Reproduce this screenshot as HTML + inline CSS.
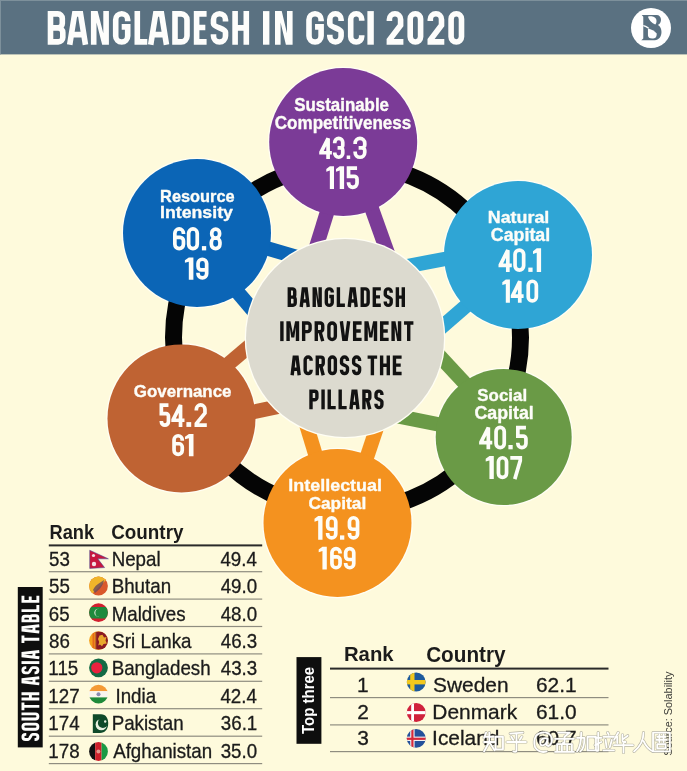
<!DOCTYPE html>
<html><head><meta charset="utf-8"><style>
html,body{margin:0;padding:0;background:#fefadc;}
svg{display:block;font-family:"Liberation Sans",sans-serif;will-change:transform;}
</style></head><body>
<svg width="687" height="771" viewBox="0 0 687 771">
<rect width="687" height="771" fill="#fefadc"/>
<rect x="0" y="0" width="687" height="54.4" fill="#5a7181"/>
<rect x="0" y="0" width="687" height="1" fill="#7d909b"/><rect x="0" y="0" width="1" height="54.4" fill="#7d909b"/>
<path transform="translate(47.70 11.10)" d="M2.80 0.00 V33.60 M0.00 2.80 H10.08 A4.52 4.52 0 0 1 14.60 7.32 V12.28 A4.52 4.52 0 0 1 10.08 16.80 H2.80 M2.80 16.80 H10.58 A4.52 4.52 0 0 1 15.10 21.32 V26.28 A4.52 4.52 0 0 1 10.58 30.80 H0.00" fill="none" stroke="#fdfdfb" stroke-width="5.60" stroke-linejoin="miter" stroke-linecap="butt"/>
<path transform="translate(67.20 11.10)" d="M2.52 33.60 L7.49 2.80 H13.31 L18.28 33.60 M4.16 23.52 H16.64" fill="none" stroke="#fdfdfb" stroke-width="5.60" stroke-linejoin="miter" stroke-linecap="butt"/>
<path transform="translate(90.90 11.10)" d="M0 0 H6.72 L12.40 22.18 V0 H18.00 V33.60 H11.28 L5.60 11.42 V33.60 H0 Z" fill="#fdfdfb"/>
<path transform="translate(112.90 11.10)" d="M14.80 10.15 V8.68 A5.88 5.88 0 0 0 2.80 8.68 V24.92 A5.88 5.88 0 0 0 14.80 24.92 V15.79 H8.80" fill="none" stroke="#fdfdfb" stroke-width="5.60" stroke-linejoin="miter" stroke-linecap="butt"/>
<path transform="translate(134.50 11.10)" d="M2.80 0.00 V30.80 H12.80" fill="none" stroke="#fdfdfb" stroke-width="5.60" stroke-linejoin="miter" stroke-linecap="butt"/>
<path transform="translate(148.20 11.10)" d="M2.52 33.60 L7.49 2.80 H13.31 L18.28 33.60 M4.16 23.52 H16.64" fill="none" stroke="#fdfdfb" stroke-width="5.60" stroke-linejoin="miter" stroke-linecap="butt"/>
<path transform="translate(172.20 11.10)" d="M2.80 2.80 H8.92 A5.88 5.88 0 0 1 14.80 8.68 V24.92 A5.88 5.88 0 0 1 8.92 30.80 H2.80 Z" fill="none" stroke="#fdfdfb" stroke-width="5.60" stroke-linejoin="miter" stroke-linecap="butt"/>
<path transform="translate(193.80 11.10)" d="M12.80 2.80 H2.80 V30.80 H12.80 M2.80 16.46 H11.52" fill="none" stroke="#fdfdfb" stroke-width="5.60" stroke-linejoin="miter" stroke-linecap="butt"/>
<path transform="translate(210.70 11.10)" d="M14.80 10.44 V8.68 A5.88 5.88 0 0 0 2.80 8.68 V12.77 C2.80 16.13 14.80 17.47 14.80 20.83 V24.92 A5.88 5.88 0 0 1 2.80 24.92 V23.16" fill="none" stroke="#fdfdfb" stroke-width="5.60" stroke-linejoin="miter" stroke-linecap="butt"/>
<path transform="translate(232.30 11.10)" d="M2.80 0.00 V33.60 M14.00 0.00 V33.60 M2.80 16.80 H14.00" fill="none" stroke="#fdfdfb" stroke-width="5.60" stroke-linejoin="miter" stroke-linecap="butt"/>
<rect x="263.00" y="11.10" width="6.40" height="33.60" fill="#fdfdfb"/>
<path transform="translate(275.00 11.10)" d="M0 0 H6.72 L12.00 22.18 V0 H17.60 V33.60 H10.88 L5.60 11.42 V33.60 H0 Z" fill="#fdfdfb"/>
<path transform="translate(306.20 11.10)" d="M14.90 10.21 V8.73 A5.93 5.93 0 0 0 2.80 8.73 V24.87 A5.93 5.93 0 0 0 14.90 24.87 V15.79 H8.85" fill="none" stroke="#fdfdfb" stroke-width="5.60" stroke-linejoin="miter" stroke-linecap="butt"/>
<path transform="translate(327.00 11.10)" d="M14.10 10.00 V8.34 A5.54 5.54 0 0 0 2.80 8.34 V12.77 C2.80 16.13 14.10 17.47 14.10 20.83 V25.26 A5.54 5.54 0 0 1 2.80 25.26 V23.60" fill="none" stroke="#fdfdfb" stroke-width="5.60" stroke-linejoin="miter" stroke-linecap="butt"/>
<path transform="translate(347.90 11.10)" d="M13.80 9.54 V8.19 A5.39 5.39 0 0 0 2.80 8.19 V25.41 A5.39 5.39 0 0 0 13.80 25.41 V24.06" fill="none" stroke="#fdfdfb" stroke-width="5.60" stroke-linejoin="miter" stroke-linecap="butt"/>
<rect x="367.40" y="11.10" width="6.40" height="33.60" fill="#fdfdfb"/>
<path transform="translate(386.60 11.10)" d="M2.80 9.93 V8.29 A5.49 5.49 0 0 1 14.00 8.29 V14.11 L2.80 28.90 V30.80 H16.80" fill="none" stroke="#fdfdfb" stroke-width="5.60" stroke-linejoin="miter" stroke-linecap="butt"/>
<path transform="translate(407.40 11.10)" d="M2.80 7.90 A5.10 5.10 0 0 1 13.20 7.90 V25.70 A5.10 5.10 0 0 1 2.80 25.70 V7.90 Z" fill="none" stroke="#fdfdfb" stroke-width="5.60" stroke-linejoin="miter" stroke-linecap="butt"/>
<path transform="translate(427.50 11.10)" d="M2.80 9.93 V8.29 A5.49 5.49 0 0 1 14.00 8.29 V14.11 L2.80 28.90 V30.80 H16.80" fill="none" stroke="#fdfdfb" stroke-width="5.60" stroke-linejoin="miter" stroke-linecap="butt"/>
<path transform="translate(448.30 11.10)" d="M2.80 7.90 A5.10 5.10 0 0 1 13.20 7.90 V25.70 A5.10 5.10 0 0 1 2.80 25.70 V7.90 Z" fill="none" stroke="#fdfdfb" stroke-width="5.60" stroke-linejoin="miter" stroke-linecap="butt"/>
<circle cx="651" cy="28" r="20" fill="#fff"/>
<circle cx="343.2" cy="142" r="75.3" fill="#fffef4"/>
<circle cx="197" cy="233" r="75.3" fill="#fffef4"/>
<circle cx="518" cy="255" r="75.3" fill="#fffef4"/>
<circle cx="181.5" cy="418.4" r="75.3" fill="#fffef4"/>
<circle cx="337.5" cy="523" r="75.3" fill="#fffef4"/>
<circle cx="503.7" cy="437" r="69.3" fill="#fffef4"/>
<circle cx="347" cy="337.5" r="173.5" fill="none" stroke="#050505" stroke-width="17"/>
<line x1="332.7" y1="194.0" x2="311.3" y2="263.0" stroke="#7b3b97" stroke-width="14.5"/>
<line x1="365.9" y1="192.3" x2="392.2" y2="265.7" stroke="#7b3b97" stroke-width="14.5"/>
<line x1="248.0" y1="242.7" x2="316.8" y2="262.9" stroke="#0b65b6" stroke-width="14.5"/>
<line x1="224.9" y1="277.2" x2="268.4" y2="328.3" stroke="#0b65b6" stroke-width="14.5"/>
<line x1="466.0" y1="255.0" x2="392.3" y2="269.0" stroke="#2fa5d5" stroke-width="14.5"/>
<line x1="480.8" y1="293.1" x2="427.5" y2="339.4" stroke="#2fa5d5" stroke-width="14.5"/>
<line x1="212.7" y1="377.3" x2="267.7" y2="330.5" stroke="#bf6333" stroke-width="14.5"/>
<line x1="233.4" y1="416.1" x2="301.0" y2="401.9" stroke="#bf6333" stroke-width="14.5"/>
<line x1="299.6" y1="402.6" x2="321.2" y2="473.4" stroke="#f4921f" stroke-width="14.5"/>
<line x1="383.5" y1="407.4" x2="361.5" y2="473.2" stroke="#f4921f" stroke-width="14.5"/>
<line x1="424.6" y1="340.0" x2="478.6" y2="398.1" stroke="#6a9a46" stroke-width="14.5"/>
<line x1="389.9" y1="414.7" x2="459.0" y2="428.5" stroke="#6a9a46" stroke-width="14.5"/>
<circle cx="345" cy="338" r="100.3" fill="#fffef4"/>
<circle cx="345" cy="338" r="99" fill="#dcdacf"/>
<path transform="translate(287.60 287.20)" d="M1.70 0.00 V19.80 M0.00 1.70 H4.94 A2.18 2.18 0 0 1 7.12 3.88 V7.72 A2.18 2.18 0 0 1 4.94 9.90 H1.70 M1.70 9.90 H5.44 A2.18 2.18 0 0 1 7.62 12.08 V15.92 A2.18 2.18 0 0 1 5.44 18.10 H0.00" fill="none" stroke="#121212" stroke-width="3.40" stroke-linejoin="miter" stroke-linecap="butt"/><path transform="translate(299.69 287.20)" d="M1.53 19.80 L3.62 1.70 H6.44 L8.54 19.80 M2.01 13.86 H8.05" fill="none" stroke="#121212" stroke-width="3.40" stroke-linejoin="miter" stroke-linecap="butt"/><path transform="translate(312.53 287.20)" d="M0 0 H4.08 L5.92 13.07 V0 H9.32 V19.80 H5.24 L3.40 6.73 V19.80 H0 Z" fill="#121212"/><path transform="translate(324.62 287.20)" d="M7.62 5.33 V4.60 A2.90 2.90 0 0 0 1.70 4.60 V15.20 A2.90 2.90 0 0 0 7.62 15.20 V9.31 H4.66" fill="none" stroke="#121212" stroke-width="3.40" stroke-linejoin="miter" stroke-linecap="butt"/><path transform="translate(336.71 287.20)" d="M1.70 0.00 V18.10 H8.20" fill="none" stroke="#121212" stroke-width="3.40" stroke-linejoin="miter" stroke-linecap="butt"/><path transform="translate(347.69 287.20)" d="M1.53 19.80 L3.62 1.70 H6.44 L8.54 19.80 M2.01 13.86 H8.05" fill="none" stroke="#121212" stroke-width="3.40" stroke-linejoin="miter" stroke-linecap="butt"/><path transform="translate(360.52 287.20)" d="M1.70 1.70 H4.72 A2.90 2.90 0 0 1 7.62 4.60 V15.20 A2.90 2.90 0 0 1 4.72 18.10 H1.70 Z" fill="none" stroke="#121212" stroke-width="3.40" stroke-linejoin="miter" stroke-linecap="butt"/><path transform="translate(372.62 287.20)" d="M8.20 1.70 H1.70 V18.10 H8.20 M1.70 9.70 H7.38" fill="none" stroke="#121212" stroke-width="3.40" stroke-linejoin="miter" stroke-linecap="butt"/><path transform="translate(383.59 287.20)" d="M7.62 5.47 V4.60 A2.90 2.90 0 0 0 1.70 4.60 V7.52 C1.70 9.50 7.62 10.30 7.62 12.28 V15.20 A2.90 2.90 0 0 1 1.70 15.20 V14.33" fill="none" stroke="#121212" stroke-width="3.40" stroke-linejoin="miter" stroke-linecap="butt"/><path transform="translate(395.68 287.20)" d="M1.70 0.00 V19.80 M7.62 0.00 V19.80 M1.70 9.90 H7.62" fill="none" stroke="#121212" stroke-width="3.40" stroke-linejoin="miter" stroke-linecap="butt"/>
<rect x="280.20" y="321.30" width="3.40" height="19.80" fill="#121212"/><path transform="translate(286.37 321.30)" d="M0 0 H4.08 L6.40 11.48 L8.73 0 H12.81 V19.80 H9.41 V5.94 L7.93 16.24 H4.87 L3.40 5.94 V19.80 H0 Z" fill="#121212"/><path transform="translate(301.95 321.30)" d="M1.70 19.80 V1.70 H5.62 A2.53 2.53 0 0 1 8.15 4.23 V7.77 A2.53 2.53 0 0 1 5.62 10.30 H1.70" fill="none" stroke="#121212" stroke-width="3.40" stroke-linejoin="miter" stroke-linecap="butt"/><path transform="translate(314.58 321.30)" d="M1.70 19.80 V1.70 H5.62 A2.53 2.53 0 0 1 8.15 4.23 V7.77 A2.53 2.53 0 0 1 5.62 10.30 H1.70 M5.42 10.30 L8.15 19.80" fill="none" stroke="#121212" stroke-width="3.40" stroke-linejoin="miter" stroke-linecap="butt"/><path transform="translate(327.20 321.30)" d="M1.70 4.86 A3.16 3.16 0 0 1 8.15 4.86 V14.94 A3.16 3.16 0 0 1 1.70 14.94 V4.86 Z" fill="none" stroke="#121212" stroke-width="3.40" stroke-linejoin="miter" stroke-linecap="butt"/><path transform="translate(339.83 321.30)" d="M1.53 0.00 L3.93 18.10 H6.41 L8.82 0.00" fill="none" stroke="#121212" stroke-width="3.40" stroke-linejoin="miter" stroke-linecap="butt"/><path transform="translate(352.95 321.30)" d="M8.67 1.70 H1.70 V18.10 H8.67 M1.70 9.70 H7.80" fill="none" stroke="#121212" stroke-width="3.40" stroke-linejoin="miter" stroke-linecap="butt"/><path transform="translate(364.39 321.30)" d="M0 0 H4.08 L6.40 11.48 L8.73 0 H12.81 V19.80 H9.41 V5.94 L7.93 16.24 H4.87 L3.40 5.94 V19.80 H0 Z" fill="#121212"/><path transform="translate(379.97 321.30)" d="M8.67 1.70 H1.70 V18.10 H8.67 M1.70 9.70 H7.80" fill="none" stroke="#121212" stroke-width="3.40" stroke-linejoin="miter" stroke-linecap="butt"/><path transform="translate(391.41 321.30)" d="M0 0 H4.08 L6.45 13.07 V0 H9.85 V19.80 H5.77 L3.40 6.73 V19.80 H0 Z" fill="#121212"/><path transform="translate(404.04 321.30)" d="M0.00 1.70 H9.36 M4.68 0.00 V19.80" fill="none" stroke="#121212" stroke-width="3.40" stroke-linejoin="miter" stroke-linecap="butt"/>
<path transform="translate(290.60 355.40)" d="M1.53 19.80 L3.63 1.70 H6.46 L8.57 19.80 M2.02 13.86 H8.08" fill="none" stroke="#121212" stroke-width="3.40" stroke-linejoin="miter" stroke-linecap="butt"/><path transform="translate(303.47 355.40)" d="M7.65 5.34 V4.61 A2.91 2.91 0 0 0 1.70 4.61 V15.19 A2.91 2.91 0 0 0 7.65 15.19 V14.46" fill="none" stroke="#121212" stroke-width="3.40" stroke-linejoin="miter" stroke-linecap="butt"/><path transform="translate(315.59 355.40)" d="M1.70 19.80 V1.70 H5.32 A2.33 2.33 0 0 1 7.65 4.03 V7.96 A2.33 2.33 0 0 1 5.32 10.30 H1.70 M5.14 10.30 L7.65 19.80" fill="none" stroke="#121212" stroke-width="3.40" stroke-linejoin="miter" stroke-linecap="butt"/><path transform="translate(327.71 355.40)" d="M1.70 4.61 A2.91 2.91 0 0 1 7.65 4.61 V15.19 A2.91 2.91 0 0 1 1.70 15.19 V4.61 Z" fill="none" stroke="#121212" stroke-width="3.40" stroke-linejoin="miter" stroke-linecap="butt"/><path transform="translate(339.83 355.40)" d="M7.65 5.49 V4.61 A2.91 2.91 0 0 0 1.70 4.61 V7.52 C1.70 9.50 7.65 10.30 7.65 12.28 V15.19 A2.91 2.91 0 0 1 1.70 15.19 V14.31" fill="none" stroke="#121212" stroke-width="3.40" stroke-linejoin="miter" stroke-linecap="butt"/><path transform="translate(351.95 355.40)" d="M7.65 5.49 V4.61 A2.91 2.91 0 0 0 1.70 4.61 V7.52 C1.70 9.50 7.65 10.30 7.65 12.28 V15.19 A2.91 2.91 0 0 1 1.70 15.19 V14.31" fill="none" stroke="#121212" stroke-width="3.40" stroke-linejoin="miter" stroke-linecap="butt"/>
<path transform="translate(367.60 355.40)" d="M0.00 1.70 H9.55 M4.78 0.00 V19.80" fill="none" stroke="#121212" stroke-width="3.40" stroke-linejoin="miter" stroke-linecap="butt"/><path transform="translate(379.92 355.40)" d="M1.70 0.00 V19.80 M8.36 0.00 V19.80 M1.70 9.90 H8.36" fill="none" stroke="#121212" stroke-width="3.40" stroke-linejoin="miter" stroke-linecap="butt"/><path transform="translate(392.75 355.40)" d="M8.85 1.70 H1.70 V18.10 H8.85 M1.70 9.70 H7.96" fill="none" stroke="#121212" stroke-width="3.40" stroke-linejoin="miter" stroke-linecap="butt"/>
<path transform="translate(309.30 389.50)" d="M1.70 19.80 V1.70 H5.28 A2.31 2.31 0 0 1 7.59 4.01 V7.99 A2.31 2.31 0 0 1 5.28 10.30 H1.70" fill="none" stroke="#121212" stroke-width="3.40" stroke-linejoin="miter" stroke-linecap="butt"/><rect x="321.36" y="389.50" width="3.40" height="19.80" fill="#121212"/><path transform="translate(327.54 389.50)" d="M1.70 0.00 V18.10 H8.18" fill="none" stroke="#121212" stroke-width="3.40" stroke-linejoin="miter" stroke-linecap="butt"/><path transform="translate(338.49 389.50)" d="M1.70 0.00 V18.10 H8.18" fill="none" stroke="#121212" stroke-width="3.40" stroke-linejoin="miter" stroke-linecap="butt"/><path transform="translate(349.44 389.50)" d="M1.53 19.80 L3.61 1.70 H6.42 L8.51 19.80 M2.01 13.86 H8.03" fill="none" stroke="#121212" stroke-width="3.40" stroke-linejoin="miter" stroke-linecap="butt"/><path transform="translate(362.24 389.50)" d="M1.70 19.80 V1.70 H5.28 A2.31 2.31 0 0 1 7.59 4.01 V7.99 A2.31 2.31 0 0 1 5.28 10.30 H1.70 M5.11 10.30 L7.59 19.80" fill="none" stroke="#121212" stroke-width="3.40" stroke-linejoin="miter" stroke-linecap="butt"/><path transform="translate(374.31 389.50)" d="M7.59 5.45 V4.59 A2.89 2.89 0 0 0 1.70 4.59 V7.52 C1.70 9.50 7.59 10.30 7.59 12.28 V15.21 A2.89 2.89 0 0 1 1.70 15.21 V14.35" fill="none" stroke="#121212" stroke-width="3.40" stroke-linejoin="miter" stroke-linecap="butt"/>
<circle cx="343.2" cy="142" r="74" fill="#7b3b97"/>
<text transform="translate(294.29 110.53) scale(0.9645 1)" font-size="17.51" font-weight="bold" fill="#fdfdf8" stroke="#fdfdf8" stroke-width="0.36" stroke-linejoin="round">Sustainable</text>
<text transform="translate(274.77 129.12) scale(0.9757 1)" font-size="17.51" font-weight="bold" fill="#fdfdf8" stroke="#fdfdf8" stroke-width="0.35" stroke-linejoin="round">Competitiveness</text>
<path transform="translate(319.20 136.60)" d="M8.89 22.40 V1.85 L1.85 15.68 V16.13 H12.70" fill="none" stroke="#fdfdf8" stroke-width="3.70" stroke-linejoin="miter" stroke-linecap="butt"/><path transform="translate(332.90 136.60)" d="M1.85 6.55 V5.77 A3.92 3.92 0 0 1 9.85 5.77 V8.85 A2.35 2.35 0 0 1 7.50 11.20 H4.68 M7.50 11.20 A2.35 2.35 0 0 1 9.85 13.55 V16.63 A3.92 3.92 0 0 1 1.85 16.63 V15.85" fill="none" stroke="#fdfdf8" stroke-width="3.70" stroke-linejoin="miter" stroke-linecap="butt"/><rect x="346.70" y="155.50" width="3.50" height="3.50" fill="#fdfdf8"/><path transform="translate(353.30 136.60)" d="M1.85 7.49 V6.55 A4.70 4.70 0 0 1 11.45 6.55 V8.38 A2.82 2.82 0 0 1 8.63 11.20 H5.32 M8.63 11.20 A2.82 2.82 0 0 1 11.45 14.02 V15.85 A4.70 4.70 0 0 1 1.85 15.85 V14.91" fill="none" stroke="#fdfdf8" stroke-width="3.70" stroke-linejoin="miter" stroke-linecap="butt"/>
<polygon transform="translate(326.30 166.20)" points="0.00,2.75 3.54,0.00 7.70,0.00 7.70,22.90 3.54,22.90 3.54,4.35 0.00,5.50" fill="#fdfdf8"/><polygon transform="translate(336.00 166.20)" points="0.00,2.75 3.73,0.00 8.10,0.00 8.10,22.90 3.73,22.90 3.73,4.35 0.00,5.50" fill="#fdfdf8"/><path transform="translate(346.70 166.20)" d="M10.35 1.85 H1.85 V10.08 H7.43 A2.92 2.92 0 0 1 10.35 12.99 V16.89 A4.16 4.16 0 0 1 1.85 16.89 V16.05" fill="none" stroke="#fdfdf8" stroke-width="3.70" stroke-linejoin="miter" stroke-linecap="butt"/>
<circle cx="197" cy="233" r="74" fill="#0b65b6"/>
<text transform="translate(160.08 202.22) scale(0.9849 1)" font-size="16.64" font-weight="bold" fill="#fdfdf8" stroke="#fdfdf8" stroke-width="0.35" stroke-linejoin="round">Resource</text>
<text transform="translate(159.99 217.82) scale(1.0752 1)" font-size="16.50" font-weight="bold" fill="#fdfdf8" stroke="#fdfdf8" stroke-width="0.34" stroke-linejoin="round">Intensity</text>
<path transform="translate(173.00 227.20)" d="M10.45 6.91 V6.06 A4.21 4.21 0 0 0 1.85 6.06 V17.14 A4.21 4.21 0 0 0 10.45 17.14 V13.58 A3.37 3.37 0 0 0 7.08 10.21 H1.85" fill="none" stroke="#fdfdf8" stroke-width="3.70" stroke-linejoin="miter" stroke-linecap="butt"/><path transform="translate(186.80 227.20)" d="M1.85 6.06 A4.21 4.21 0 0 1 10.45 6.06 V17.14 A4.21 4.21 0 0 1 1.85 17.14 V6.06 Z" fill="none" stroke="#fdfdf8" stroke-width="3.70" stroke-linejoin="miter" stroke-linecap="butt"/><rect x="201.90" y="246.10" width="4.30" height="4.30" fill="#fdfdf8"/><path transform="translate(209.50 227.20)" d="M2.25 5.75 A3.90 3.90 0 0 1 10.05 5.75 V7.00 A3.90 3.90 0 0 1 2.25 7.00 V5.75 Z M1.85 15.12 A4.21 4.21 0 0 1 10.45 15.12 V17.14 A4.21 4.21 0 0 1 1.85 17.14 V15.12 Z" fill="none" stroke="#fdfdf8" stroke-width="3.70" stroke-linejoin="miter" stroke-linecap="butt"/>
<polygon transform="translate(184.90 257.50)" points="0.00,2.66 3.91,0.00 8.50,0.00 8.50,22.20 3.91,22.20 3.91,4.22 0.00,5.33" fill="#fdfdf8"/><path transform="translate(196.20 257.50)" d="M1.85 15.29 V16.14 A4.21 4.21 0 0 0 10.45 16.14 V6.06 A4.21 4.21 0 0 0 1.85 6.06 V9.06 A3.37 3.37 0 0 0 5.22 12.43 H10.45" fill="none" stroke="#fdfdf8" stroke-width="3.70" stroke-linejoin="miter" stroke-linecap="butt"/>
<circle cx="518" cy="255" r="74" fill="#2fa5d5"/>
<text transform="translate(487.78 223.32) scale(1.0822 1)" font-size="16.50" font-weight="bold" fill="#fdfdf8" stroke="#fdfdf8" stroke-width="0.34" stroke-linejoin="round">Natural</text>
<text transform="translate(490.84 240.52) scale(0.9915 1)" font-size="17.95" font-weight="bold" fill="#fdfdf8" stroke="#fdfdf8" stroke-width="0.35" stroke-linejoin="round">Capital</text>
<path transform="translate(498.50 248.30)" d="M9.31 23.60 V1.85 L1.85 16.52 V16.99 H13.30" fill="none" stroke="#fdfdf8" stroke-width="3.70" stroke-linejoin="miter" stroke-linecap="butt"/><path transform="translate(513.20 248.30)" d="M1.85 6.06 A4.21 4.21 0 0 1 10.45 6.06 V17.54 A4.21 4.21 0 0 1 1.85 17.54 V6.06 Z" fill="none" stroke="#fdfdf8" stroke-width="3.70" stroke-linejoin="miter" stroke-linecap="butt"/><rect x="528.30" y="267.60" width="4.30" height="4.30" fill="#fdfdf8"/><polygon transform="translate(533.00 248.30)" points="0.00,2.83 3.73,0.00 8.10,0.00 8.10,23.60 3.73,23.60 3.73,4.48 0.00,5.66" fill="#fdfdf8"/>
<polygon transform="translate(502.30 279.50)" points="0.00,2.78 3.50,0.00 7.60,0.00 7.60,23.20 3.50,23.20 3.50,4.41 0.00,5.57" fill="#fdfdf8"/><path transform="translate(510.80 279.50)" d="M8.96 23.20 V1.85 L1.85 16.24 V16.70 H12.80" fill="none" stroke="#fdfdf8" stroke-width="3.70" stroke-linejoin="miter" stroke-linecap="butt"/><path transform="translate(526.40 279.50)" d="M1.85 5.82 A3.97 3.97 0 0 1 9.95 5.82 V17.38 A3.97 3.97 0 0 1 1.85 17.38 V5.82 Z" fill="none" stroke="#fdfdf8" stroke-width="3.70" stroke-linejoin="miter" stroke-linecap="butt"/>
<circle cx="181.5" cy="418.4" r="74" fill="#bf6333"/>
<text transform="translate(133.78 396.62) scale(1.0169 1)" font-size="16.64" font-weight="bold" fill="#fdfdf8" stroke="#fdfdf8" stroke-width="0.35" stroke-linejoin="round">Governance</text>
<path transform="translate(159.50 403.20)" d="M8.95 1.85 H1.85 V10.43 H6.51 A2.44 2.44 0 0 1 8.95 12.86 V18.37 A3.48 3.48 0 0 1 1.85 18.37 V17.68" fill="none" stroke="#fdfdf8" stroke-width="3.70" stroke-linejoin="miter" stroke-linecap="butt"/><path transform="translate(171.30 403.20)" d="M9.24 23.70 V1.85 L1.85 16.59 V17.06 H13.20" fill="none" stroke="#fdfdf8" stroke-width="3.70" stroke-linejoin="miter" stroke-linecap="butt"/><rect x="186.40" y="422.10" width="4.80" height="4.80" fill="#fdfdf8"/><path transform="translate(194.50 403.20)" d="M1.85 7.33 V6.06 A4.21 4.21 0 0 1 10.45 6.06 V9.95 L1.85 20.38 V21.85 H12.30" fill="none" stroke="#fdfdf8" stroke-width="3.70" stroke-linejoin="miter" stroke-linecap="butt"/>
<path transform="translate(172.20 434.00)" d="M10.05 6.67 V5.87 A4.02 4.02 0 0 0 1.85 5.87 V16.33 A4.02 4.02 0 0 0 10.05 16.33 V12.98 A3.21 3.21 0 0 0 6.84 9.77 H1.85" fill="none" stroke="#fdfdf8" stroke-width="3.70" stroke-linejoin="miter" stroke-linecap="butt"/><polygon transform="translate(185.00 434.00)" points="0.00,2.66 3.91,0.00 8.50,0.00 8.50,22.20 3.91,22.20 3.91,4.22 0.00,5.33" fill="#fdfdf8"/>
<circle cx="337.5" cy="523" r="74" fill="#f4921f"/>
<text transform="translate(288.27 490.62) scale(1.0341 1)" font-size="17.37" font-weight="bold" fill="#fdfdf8" stroke="#fdfdf8" stroke-width="0.34" stroke-linejoin="round">Intellectual</text>
<text transform="translate(308.46 508.82) scale(1.0081 1)" font-size="17.22" font-weight="bold" fill="#fdfdf8" stroke="#fdfdf8" stroke-width="0.35" stroke-linejoin="round">Capital</text>
<polygon transform="translate(314.50 516.00)" points="0.00,2.84 3.68,0.00 8.00,0.00 8.00,23.70 3.68,23.70 3.68,4.50 0.00,5.69" fill="#fdfdf8"/><path transform="translate(325.80 516.00)" d="M1.85 17.09 V17.88 A3.97 3.97 0 0 0 9.95 17.88 V5.82 A3.97 3.97 0 0 0 1.85 5.82 V10.10 A3.18 3.18 0 0 0 5.03 13.27 H9.95" fill="none" stroke="#fdfdf8" stroke-width="3.70" stroke-linejoin="miter" stroke-linecap="butt"/><rect x="340.00" y="535.40" width="4.30" height="4.30" fill="#fdfdf8"/><path transform="translate(347.60 516.00)" d="M1.85 17.09 V17.88 A3.97 3.97 0 0 0 9.95 17.88 V5.82 A3.97 3.97 0 0 0 1.85 5.82 V10.10 A3.18 3.18 0 0 0 5.03 13.27 H9.95" fill="none" stroke="#fdfdf8" stroke-width="3.70" stroke-linejoin="miter" stroke-linecap="butt"/>
<polygon transform="translate(318.70 546.80)" points="0.00,2.72 3.73,0.00 8.10,0.00 8.10,22.70 3.73,22.70 3.73,4.31 0.00,5.45" fill="#fdfdf8"/><path transform="translate(330.10 546.80)" d="M9.95 6.61 V5.82 A3.97 3.97 0 0 0 1.85 5.82 V16.88 A3.97 3.97 0 0 0 9.95 16.88 V13.16 A3.18 3.18 0 0 0 6.77 9.99 H1.85" fill="none" stroke="#fdfdf8" stroke-width="3.70" stroke-linejoin="miter" stroke-linecap="butt"/><path transform="translate(343.80 546.80)" d="M1.85 16.09 V16.88 A3.97 3.97 0 0 0 9.95 16.88 V5.82 A3.97 3.97 0 0 0 1.85 5.82 V9.54 A3.18 3.18 0 0 0 5.03 12.71 H9.95" fill="none" stroke="#fdfdf8" stroke-width="3.70" stroke-linejoin="miter" stroke-linecap="butt"/>
<circle cx="503.7" cy="437" r="68" fill="#6a9a46"/>
<text transform="translate(477.29 400.52) scale(0.9906 1)" font-size="17.08" font-weight="bold" fill="#fdfdf8" stroke="#fdfdf8" stroke-width="0.35" stroke-linejoin="round">Social</text>
<text transform="translate(474.44 419.43) scale(0.9604 1)" font-size="18.53" font-weight="bold" fill="#fdfdf8" stroke="#fdfdf8" stroke-width="0.36" stroke-linejoin="round">Capital</text>
<path transform="translate(479.10 425.70)" d="M9.24 23.60 V1.85 L1.85 16.52 V16.99 H13.20" fill="none" stroke="#fdfdf8" stroke-width="3.70" stroke-linejoin="miter" stroke-linecap="butt"/><path transform="translate(494.20 425.70)" d="M1.85 5.87 A4.02 4.02 0 0 1 10.05 5.87 V17.73 A4.02 4.02 0 0 1 1.85 17.73 V5.87 Z" fill="none" stroke="#fdfdf8" stroke-width="3.70" stroke-linejoin="miter" stroke-linecap="butt"/><rect x="508.40" y="445.00" width="4.30" height="4.30" fill="#fdfdf8"/><path transform="translate(516.00 425.70)" d="M9.95 1.85 H1.85 V10.38 H7.17 A2.78 2.78 0 0 1 9.95 13.16 V17.78 A3.97 3.97 0 0 1 1.85 17.78 V16.99" fill="none" stroke="#fdfdf8" stroke-width="3.70" stroke-linejoin="miter" stroke-linecap="butt"/>
<polygon transform="translate(485.70 456.00)" points="0.00,2.77 3.73,0.00 8.10,0.00 8.10,23.10 3.73,23.10 3.73,4.39 0.00,5.54" fill="#fdfdf8"/><path transform="translate(496.60 456.00)" d="M1.85 5.82 A3.97 3.97 0 0 1 9.95 5.82 V17.28 A3.97 3.97 0 0 1 1.85 17.28 V5.82 Z" fill="none" stroke="#fdfdf8" stroke-width="3.70" stroke-linejoin="miter" stroke-linecap="butt"/><path transform="translate(510.30 456.00)" d="M0.00 1.85 H9.95 V4.62 L4.48 23.10" fill="none" stroke="#fdfdf8" stroke-width="3.70" stroke-linejoin="miter" stroke-linecap="butt"/>
<text transform="translate(49.48 538.70) scale(0.9457 1)" font-size="19.33" font-weight="bold" fill="#1b1b1b">Rank</text>
<text transform="translate(111.23 538.70) scale(0.9754 1)" font-size="19.33" font-weight="bold" fill="#1b1b1b">Country</text>
<rect x="48.8" y="544.4" width="213.4" height="2" fill="#2a2a2a"/>
<text transform="translate(49.05 565.80) scale(0.9350 1)" font-size="20.06" font-weight="normal" fill="#1b1b1b" stroke="#1b1b1b" stroke-width="0.31">53</text>
<text transform="translate(111.66 565.80) scale(0.9350 1)" font-size="20.06" font-weight="normal" fill="#1b1b1b" stroke="#1b1b1b" stroke-width="0.31">Nepal</text>
<text transform="translate(220.45 565.80) scale(0.9350 1)" font-size="20.06" font-weight="normal" fill="#1b1b1b" stroke="#1b1b1b" stroke-width="0.31">49.4</text>
<rect x="48.8" y="571.1" width="213.4" height="1.2" fill="#8f8d80"/>
<text transform="translate(49.05 593.21) scale(0.9350 1)" font-size="20.06" font-weight="normal" fill="#1b1b1b" stroke="#1b1b1b" stroke-width="0.31">55</text>
<text transform="translate(111.66 593.21) scale(0.9350 1)" font-size="20.06" font-weight="normal" fill="#1b1b1b" stroke="#1b1b1b" stroke-width="0.31">Bhutan</text>
<text transform="translate(220.63 593.21) scale(0.9350 1)" font-size="20.06" font-weight="normal" fill="#1b1b1b" stroke="#1b1b1b" stroke-width="0.31">49.0</text>
<rect x="48.8" y="598.5" width="213.4" height="1.2" fill="#8f8d80"/>
<text transform="translate(48.85 620.62) scale(0.9350 1)" font-size="20.06" font-weight="normal" fill="#1b1b1b" stroke="#1b1b1b" stroke-width="0.31">65</text>
<text transform="translate(111.66 620.62) scale(0.9350 1)" font-size="20.06" font-weight="normal" fill="#1b1b1b" stroke="#1b1b1b" stroke-width="0.31">Maldives</text>
<text transform="translate(220.63 620.62) scale(0.9350 1)" font-size="20.06" font-weight="normal" fill="#1b1b1b" stroke="#1b1b1b" stroke-width="0.31">48.0</text>
<rect x="48.8" y="625.9" width="213.4" height="1.2" fill="#8f8d80"/>
<text transform="translate(48.98 648.03) scale(0.9350 1)" font-size="20.06" font-weight="normal" fill="#1b1b1b" stroke="#1b1b1b" stroke-width="0.31">86</text>
<text transform="translate(112.35 648.03) scale(0.9350 1)" font-size="20.06" font-weight="normal" fill="#1b1b1b" stroke="#1b1b1b" stroke-width="0.31">Sri Lanka</text>
<text transform="translate(220.72 648.03) scale(0.9350 1)" font-size="20.06" font-weight="normal" fill="#1b1b1b" stroke="#1b1b1b" stroke-width="0.31">46.3</text>
<rect x="48.8" y="653.3" width="213.4" height="1.2" fill="#8f8d80"/>
<text transform="translate(48.37 675.44) scale(0.9350 1)" font-size="20.06" font-weight="normal" fill="#1b1b1b" stroke="#1b1b1b" stroke-width="0.31">115</text>
<text transform="translate(111.66 675.44) scale(0.9350 1)" font-size="20.06" font-weight="normal" fill="#1b1b1b" stroke="#1b1b1b" stroke-width="0.31">Bangladesh</text>
<text transform="translate(220.72 675.44) scale(0.9350 1)" font-size="20.06" font-weight="normal" fill="#1b1b1b" stroke="#1b1b1b" stroke-width="0.31">43.3</text>
<rect x="48.8" y="680.7" width="213.4" height="1.2" fill="#8f8d80"/>
<text transform="translate(48.37 702.85) scale(0.9350 1)" font-size="20.06" font-weight="normal" fill="#1b1b1b" stroke="#1b1b1b" stroke-width="0.31">127</text>
<text transform="translate(115.47 702.85) scale(0.9350 1)" font-size="20.06" font-weight="normal" fill="#1b1b1b" stroke="#1b1b1b" stroke-width="0.31">India</text>
<text transform="translate(220.45 702.85) scale(0.9350 1)" font-size="20.06" font-weight="normal" fill="#1b1b1b" stroke="#1b1b1b" stroke-width="0.31">42.4</text>
<rect x="48.8" y="708.1" width="213.4" height="1.2" fill="#8f8d80"/>
<text transform="translate(48.37 730.26) scale(0.9350 1)" font-size="20.06" font-weight="normal" fill="#1b1b1b" stroke="#1b1b1b" stroke-width="0.31">174</text>
<text transform="translate(111.66 730.26) scale(0.9350 1)" font-size="20.06" font-weight="normal" fill="#1b1b1b" stroke="#1b1b1b" stroke-width="0.31">Pakistan</text>
<text transform="translate(220.81 730.26) scale(0.9350 1)" font-size="20.06" font-weight="normal" fill="#1b1b1b" stroke="#1b1b1b" stroke-width="0.31">36.1</text>
<rect x="48.8" y="735.6" width="213.4" height="1.2" fill="#8f8d80"/>
<text transform="translate(48.37 757.67) scale(0.9350 1)" font-size="20.06" font-weight="normal" fill="#1b1b1b" stroke="#1b1b1b" stroke-width="0.31">178</text>
<text transform="translate(113.16 757.67) scale(0.9350 1)" font-size="20.06" font-weight="normal" fill="#1b1b1b" stroke="#1b1b1b" stroke-width="0.31">Afghanistan</text>
<text transform="translate(220.63 757.67) scale(0.9350 1)" font-size="20.06" font-weight="normal" fill="#1b1b1b" stroke="#1b1b1b" stroke-width="0.31">35.0</text>
<rect x="48.8" y="763.0" width="213.4" height="1.2" fill="#8f8d80"/>
<rect x="17.8" y="587" width="24.9" height="160.4" fill="#0e0e0e"/>
<g transform="translate(21.5 741) rotate(-90)"><path transform="translate(0.00 0.00)" d="M6.66 4.77 V4.01 A2.56 2.56 0 0 0 1.45 4.01 V6.76 C1.45 8.54 6.66 9.26 6.66 11.04 V13.79 A2.56 2.56 0 0 1 1.45 13.79 V13.03" fill="none" stroke="#fdfdfb" stroke-width="2.90" stroke-linejoin="miter" stroke-linecap="butt"/><path transform="translate(10.25 0.00)" d="M1.45 4.01 A2.56 2.56 0 0 1 6.66 4.01 V13.79 A2.56 2.56 0 0 1 1.45 13.79 V4.01 Z" fill="none" stroke="#fdfdfb" stroke-width="2.90" stroke-linejoin="miter" stroke-linecap="butt"/><path transform="translate(20.50 0.00)" d="M1.45 0.00 V13.79 A2.56 2.56 0 0 0 6.66 13.79 V0.00" fill="none" stroke="#fdfdfb" stroke-width="2.90" stroke-linejoin="miter" stroke-linecap="butt"/><path transform="translate(30.75 0.00)" d="M0.00 1.45 H7.71 M3.85 0.00 V17.80" fill="none" stroke="#fdfdfb" stroke-width="2.90" stroke-linejoin="miter" stroke-linecap="butt"/><path transform="translate(40.60 0.00)" d="M1.45 0.00 V17.80 M6.66 0.00 V17.80 M1.45 8.90 H6.66" fill="none" stroke="#fdfdfb" stroke-width="2.90" stroke-linejoin="miter" stroke-linecap="butt"/><path transform="translate(55.82 0.00)" d="M1.30 17.80 L3.15 1.45 H5.61 L7.46 17.80 M1.75 12.46 H7.01" fill="none" stroke="#fdfdfb" stroke-width="2.90" stroke-linejoin="miter" stroke-linecap="butt"/><path transform="translate(66.72 0.00)" d="M6.66 4.77 V4.01 A2.56 2.56 0 0 0 1.45 4.01 V6.76 C1.45 8.54 6.66 9.26 6.66 11.04 V13.79 A2.56 2.56 0 0 1 1.45 13.79 V13.03" fill="none" stroke="#fdfdfb" stroke-width="2.90" stroke-linejoin="miter" stroke-linecap="butt"/><rect x="76.97" y="0.00" width="2.90" height="17.80" fill="#fdfdfb"/><path transform="translate(82.01 0.00)" d="M1.30 17.80 L3.15 1.45 H5.61 L7.46 17.80 M1.75 12.46 H7.01" fill="none" stroke="#fdfdfb" stroke-width="2.90" stroke-linejoin="miter" stroke-linecap="butt"/><path transform="translate(97.89 0.00)" d="M0.00 1.45 H7.71 M3.85 0.00 V17.80" fill="none" stroke="#fdfdfb" stroke-width="2.90" stroke-linejoin="miter" stroke-linecap="butt"/><path transform="translate(107.73 0.00)" d="M1.30 17.80 L3.15 1.45 H5.61 L7.46 17.80 M1.75 12.46 H7.01" fill="none" stroke="#fdfdfb" stroke-width="2.90" stroke-linejoin="miter" stroke-linecap="butt"/><path transform="translate(118.63 0.00)" d="M1.45 0.00 V17.80 M0.00 1.45 H4.25 A1.92 1.92 0 0 1 6.16 3.37 V6.98 A1.92 1.92 0 0 1 4.25 8.90 H1.45 M1.45 8.90 H4.75 A1.92 1.92 0 0 1 6.66 10.82 V14.43 A1.92 1.92 0 0 1 4.75 16.35 H0.00" fill="none" stroke="#fdfdfb" stroke-width="2.90" stroke-linejoin="miter" stroke-linecap="butt"/><path transform="translate(128.88 0.00)" d="M1.45 0.00 V16.35 H7.14" fill="none" stroke="#fdfdfb" stroke-width="2.90" stroke-linejoin="miter" stroke-linecap="butt"/><path transform="translate(138.16 0.00)" d="M7.14 1.45 H1.45 V16.35 H7.14 M1.45 8.72 H6.43" fill="none" stroke="#fdfdfb" stroke-width="2.90" stroke-linejoin="miter" stroke-linecap="butt"/></g>
<text transform="translate(343.94 661.30) scale(1.0068 1)" font-size="20.20" font-weight="bold" fill="#1b1b1b">Rank</text>
<text transform="translate(426.15 661.90) scale(0.9143 1)" font-size="22.67" font-weight="bold" fill="#1b1b1b">Country</text>
<rect x="330" y="667.6" width="278.5" height="2" fill="#2a2a2a"/>
<text transform="translate(356.90 691.50) scale(1.0431 1)" font-size="20.06" font-weight="normal" fill="#1b1b1b" stroke="#1b1b1b" stroke-width="0.29">1</text>
<text transform="translate(433.05 691.50) scale(1.0431 1)" font-size="20.06" font-weight="normal" fill="#1b1b1b" stroke="#1b1b1b" stroke-width="0.29">Sweden</text>
<text transform="translate(535.94 691.50) scale(1.0431 1)" font-size="20.06" font-weight="normal" fill="#1b1b1b" stroke="#1b1b1b" stroke-width="0.29">62.1</text>
<rect x="330" y="697.0" width="278.5" height="1.2" fill="#8f8d80"/>
<text transform="translate(357.18 718.80) scale(1.0431 1)" font-size="20.06" font-weight="normal" fill="#1b1b1b" stroke="#1b1b1b" stroke-width="0.29">2</text>
<text transform="translate(432.28 718.80) scale(1.0431 1)" font-size="20.06" font-weight="normal" fill="#1b1b1b" stroke="#1b1b1b" stroke-width="0.29">Denmark</text>
<text transform="translate(535.94 718.80) scale(1.0431 1)" font-size="20.06" font-weight="normal" fill="#1b1b1b" stroke="#1b1b1b" stroke-width="0.29">61.0</text>
<rect x="330" y="724.3" width="278.5" height="1.2" fill="#8f8d80"/>
<text transform="translate(357.24 745.30) scale(1.0431 1)" font-size="20.06" font-weight="normal" fill="#1b1b1b" stroke="#1b1b1b" stroke-width="0.29">3</text>
<text transform="translate(432.07 745.30) scale(1.0431 1)" font-size="20.06" font-weight="normal" fill="#1b1b1b" stroke="#1b1b1b" stroke-width="0.29">Iceland</text>
<text transform="translate(535.94 745.30) scale(1.0431 1)" font-size="20.06" font-weight="normal" fill="#1b1b1b" stroke="#1b1b1b" stroke-width="0.29">60.7</text>
<rect x="330" y="751.0" width="278.5" height="1.2" fill="#8f8d80"/>
<rect x="296.5" y="657.1" width="24.9" height="86.7" fill="#0e0e0e"/>
<g transform="translate(314.00 733.80) rotate(-90)"><text transform="translate(-0.17 0) scale(0.8813 1)" font-size="17.01" font-weight="bold" fill="#fff">Top three</text></g>
<g transform="translate(672.40 755.20) rotate(-90)"><text transform="translate(-0.49 0) scale(0.9247 1)" font-size="11.77" font-weight="normal" fill="#3c3c38">Source: Solability</text></g>
<defs><clipPath id="fbt"><circle cx="98.50" cy="586.00" r="9.40"/></clipPath><clipPath id="fmv"><circle cx="98.50" cy="612.60" r="9.40"/></clipPath><clipPath id="flk"><circle cx="98.50" cy="640.60" r="9.40"/></clipPath><clipPath id="fin"><circle cx="98.50" cy="694.20" r="9.40"/></clipPath><clipPath id="faf"><circle cx="98.50" cy="751.50" r="9.40"/></clipPath><clipPath id="fse"><circle cx="416.20" cy="682.00" r="9.40"/></clipPath><clipPath id="fdk"><circle cx="416.20" cy="712.50" r="9.40"/></clipPath><clipPath id="fis"><circle cx="416.20" cy="738.40" r="9.40"/></clipPath></defs>
<path d="M89.7 550.2 L108.4 558.8 L97.8 558.8 L104.6 567.6 L89.7 568.4 Z" fill="#c8173f" stroke="#3a4a9a" stroke-width="0.5"/>
<circle cx="93.5" cy="555.5" r="1.6" fill="#f4dfe5"/><circle cx="94" cy="564" r="2.2" fill="#f4dfe5"/>
<g clip-path="url(#fbt)"><rect x="88" y="576" width="22" height="22" fill="#d9582c"/><path d="M88 576 L110 576 L88 598 Z" fill="#f0b52a"/><path d="M93 590 C96 584 100 583 104 580 C103 586 99 590 95 593 Z" fill="#6a4a5a" opacity="0.8"/></g>
<g clip-path="url(#fmv)"><rect x="88" y="602" width="22" height="22" fill="#d2202f"/><rect x="88" y="607" width="22" height="11.5" fill="#1e8a3c"/><path d="M99.2 608.8 A4 4 0 1 0 99.2 616.6 A3.2 3.2 0 1 1 99.2 608.8 Z" fill="#f2f2e8"/></g>
<g clip-path="url(#flk)"><rect x="88" y="630" width="22" height="22" fill="#f4a21e"/><rect x="92.5" y="630" width="2" height="22" fill="#e46a1a"/><rect x="95" y="631.5" width="14" height="18" fill="#8a1a22"/><path d="M99.5 635.5 L102.5 634.8 L104 637.5 L106.5 637 L105.5 640.5 L106.8 643.5 L103.5 644 L102 646.2 L100 644.5 L98.2 645.5 L99.2 642 L98 639 Z" fill="#e9a92a"/><rect x="95.2" y="631.5" width="1" height="18" fill="#e9a92a" opacity="0.7"/></g>
<circle cx="98.5" cy="667.8" r="9.4" fill="#146b45"/><circle cx="96.8" cy="667.8" r="5.6" fill="#e8213f"/>
<g clip-path="url(#fin)"><rect x="88" y="684" width="22" height="7.2" fill="#f49a36"/><rect x="88" y="691.2" width="22" height="6.2" fill="#f8f4ee"/><rect x="88" y="697.4" width="22" height="8" fill="#1f8a3a"/><circle cx="98.5" cy="694.3" r="2" fill="#8a8cb0"/></g>
<path d="M92.8 714.2 L101 714.2 C106 714.2 108.2 718.5 108.2 723.5 C108.2 729 105 733 100 733 L92.8 733 Z" fill="#0f4a2a"/>
<circle cx="101.3" cy="724.6" r="5.7" fill="#e8f0e0"/><circle cx="102.9" cy="722.9" r="5.0" fill="#0f4a2a"/>
<circle cx="105.2" cy="721.5" r="1.2" fill="#e8f0e0"/>
<g clip-path="url(#faf)"><rect x="88" y="741" width="7.2" height="22" fill="#111"/><rect x="95.2" y="741" width="6.4" height="22" fill="#cc1f2a"/><rect x="101.6" y="741" width="8" height="22" fill="#1a9a44"/><circle cx="98.4" cy="751.5" r="2" fill="#e8b8a8" opacity="0.8"/></g>
<g clip-path="url(#fse)"><rect x="406" y="672" width="22" height="22" fill="#1d5a9c"/><rect x="410.2" y="672" width="4.3" height="22" fill="#f2c81c"/><rect x="406" y="680" width="22" height="4.4" fill="#f2c81c"/></g>
<g clip-path="url(#fdk)"><rect x="406" y="702" width="22" height="22" fill="#d0213c"/><rect x="411.2" y="702" width="2.8" height="22" fill="#fff"/><rect x="406" y="711.1" width="22" height="3.1" fill="#fff"/></g>
<g clip-path="url(#fis)"><rect x="406" y="728" width="22" height="22" fill="#24519a"/><rect x="410.2" y="728" width="4.4" height="22" fill="#f4f0f0"/><rect x="406" y="736.6" width="22" height="4.4" fill="#f4f0f0"/><rect x="411.3" y="728" width="2.2" height="22" fill="#d42a3a"/><rect x="406" y="737.7" width="22" height="2.2" fill="#d42a3a"/></g>
<g transform="translate(628 5) scale(0.06698)" fill="#5a7181">
<path d="M205 150 L430 150 C500 150 520 262 445 300 C525 330 525 525 400 525 L198 525 L228 500 L228 176 Z"/>
<path fill="#fff" d="M298 176 C330 162 420 165 425 232 C428 262 418 282 406 292 C360 272 312 232 298 176 Z"/>
<path fill="#fff" d="M298 352 C345 362 400 392 428 425 C432 480 405 502 362 502 C320 502 298 482 298 452 Z"/>
<path fill="#fff" d="M228 300 C268 310 300 328 322 346 L298 352 C280 338 252 324 228 316 Z"/>
</g>
<path transform="translate(483 731.5) scale(1.05)" d="M3 1 L1 6 M2 5 H10 M1 10 H11 M6 1 V10 L1 19 M6 10 L11 18 M12 5 H19 V17 H12 Z" fill="none" stroke="#7c7c74" stroke-opacity="0.55" stroke-width="2.9" stroke-linecap="round" stroke-linejoin="round"/>
<path transform="translate(506 731.5) scale(1.05)" d="M4 2 L16 1 M5 5 L7 8 M15 5 L13 8 M1 10 H19 M10 3 V18 Q10 20 7 19" fill="none" stroke="#7c7c74" stroke-opacity="0.55" stroke-width="2.9" stroke-linecap="round" stroke-linejoin="round"/>
<path transform="translate(533 731.5) scale(1.05)" d="M14 7 Q10 5 7 9 Q6 14 10 13 Q13 12 14 7 L13 13 Q15 15 17 12 Q20 6 15 2 Q8 -1 3 4 Q0 9 2 15 Q6 21 13 19" fill="none" stroke="#7c7c74" stroke-opacity="0.55" stroke-width="2.9" stroke-linecap="round" stroke-linejoin="round"/>
<path transform="translate(554 731.5) scale(1.05)" d="M4 1 H15 L10 5 M10 5 V10 Q10 11 8 11 M1 7 H19 M3 12 H17 V19 M3 12 V19 M7.5 12 V19 M12.5 12 V19 M1 19.5 H19" fill="none" stroke="#7c7c74" stroke-opacity="0.55" stroke-width="2.9" stroke-linecap="round" stroke-linejoin="round"/>
<path transform="translate(576 731.5) scale(1.05)" d="M1 6 H8 Q8 17 4 19 M5 1 Q5 14 1 19 M11 5 H19 V18 H11 Z" fill="none" stroke="#7c7c74" stroke-opacity="0.55" stroke-width="2.9" stroke-linecap="round" stroke-linejoin="round"/>
<path transform="translate(594 731.5) scale(1.05)" d="M1 6 H7 M4 1 V18 Q4 19 2 18 M1 13 L7 10 M13 1 L14 3 M9 5 H19 M11 8 L12 15 M17 8 L15 15 M9 18 H19" fill="none" stroke="#7c7c74" stroke-opacity="0.55" stroke-width="2.9" stroke-linecap="round" stroke-linejoin="round"/>
<path transform="translate(613 731.5) scale(1.05)" d="M5 1 L1 8 M4 5 V11 M9 3 V9 Q9 10 12 10 M14 4 L10 7 M1 13 H19 M10 11 V20" fill="none" stroke="#7c7c74" stroke-opacity="0.55" stroke-width="2.9" stroke-linecap="round" stroke-linejoin="round"/>
<path transform="translate(633 731.5) scale(1.05)" d="M10 1 Q10 12 1 19 M10 9 Q13 16 19 19" fill="none" stroke="#7c7c74" stroke-opacity="0.55" stroke-width="2.9" stroke-linecap="round" stroke-linejoin="round"/>
<path transform="translate(652 731.5) scale(1.05)" d="M1 1 H17 V19 H1 Z M5 5 H13 M4 8 H14 M7 3 V10 M11 3 V10 M5 12 H13 V16 H5 Z" fill="none" stroke="#7c7c74" stroke-opacity="0.55" stroke-width="2.9" stroke-linecap="round" stroke-linejoin="round"/>
<path transform="translate(483 731.5) scale(1.05)" d="M3 1 L1 6 M2 5 H10 M1 10 H11 M6 1 V10 L1 19 M6 10 L11 18 M12 5 H19 V17 H12 Z" fill="none" stroke="#ffffff" stroke-width="1.7" stroke-linecap="round" stroke-linejoin="round"/>
<path transform="translate(506 731.5) scale(1.05)" d="M4 2 L16 1 M5 5 L7 8 M15 5 L13 8 M1 10 H19 M10 3 V18 Q10 20 7 19" fill="none" stroke="#ffffff" stroke-width="1.7" stroke-linecap="round" stroke-linejoin="round"/>
<path transform="translate(533 731.5) scale(1.05)" d="M14 7 Q10 5 7 9 Q6 14 10 13 Q13 12 14 7 L13 13 Q15 15 17 12 Q20 6 15 2 Q8 -1 3 4 Q0 9 2 15 Q6 21 13 19" fill="none" stroke="#ffffff" stroke-width="1.7" stroke-linecap="round" stroke-linejoin="round"/>
<path transform="translate(554 731.5) scale(1.05)" d="M4 1 H15 L10 5 M10 5 V10 Q10 11 8 11 M1 7 H19 M3 12 H17 V19 M3 12 V19 M7.5 12 V19 M12.5 12 V19 M1 19.5 H19" fill="none" stroke="#ffffff" stroke-width="1.7" stroke-linecap="round" stroke-linejoin="round"/>
<path transform="translate(576 731.5) scale(1.05)" d="M1 6 H8 Q8 17 4 19 M5 1 Q5 14 1 19 M11 5 H19 V18 H11 Z" fill="none" stroke="#ffffff" stroke-width="1.7" stroke-linecap="round" stroke-linejoin="round"/>
<path transform="translate(594 731.5) scale(1.05)" d="M1 6 H7 M4 1 V18 Q4 19 2 18 M1 13 L7 10 M13 1 L14 3 M9 5 H19 M11 8 L12 15 M17 8 L15 15 M9 18 H19" fill="none" stroke="#ffffff" stroke-width="1.7" stroke-linecap="round" stroke-linejoin="round"/>
<path transform="translate(613 731.5) scale(1.05)" d="M5 1 L1 8 M4 5 V11 M9 3 V9 Q9 10 12 10 M14 4 L10 7 M1 13 H19 M10 11 V20" fill="none" stroke="#ffffff" stroke-width="1.7" stroke-linecap="round" stroke-linejoin="round"/>
<path transform="translate(633 731.5) scale(1.05)" d="M10 1 Q10 12 1 19 M10 9 Q13 16 19 19" fill="none" stroke="#ffffff" stroke-width="1.7" stroke-linecap="round" stroke-linejoin="round"/>
<path transform="translate(652 731.5) scale(1.05)" d="M1 1 H17 V19 H1 Z M5 5 H13 M4 8 H14 M7 3 V10 M11 3 V10 M5 12 H13 V16 H5 Z" fill="none" stroke="#ffffff" stroke-width="1.7" stroke-linecap="round" stroke-linejoin="round"/>
</svg></body></html>
